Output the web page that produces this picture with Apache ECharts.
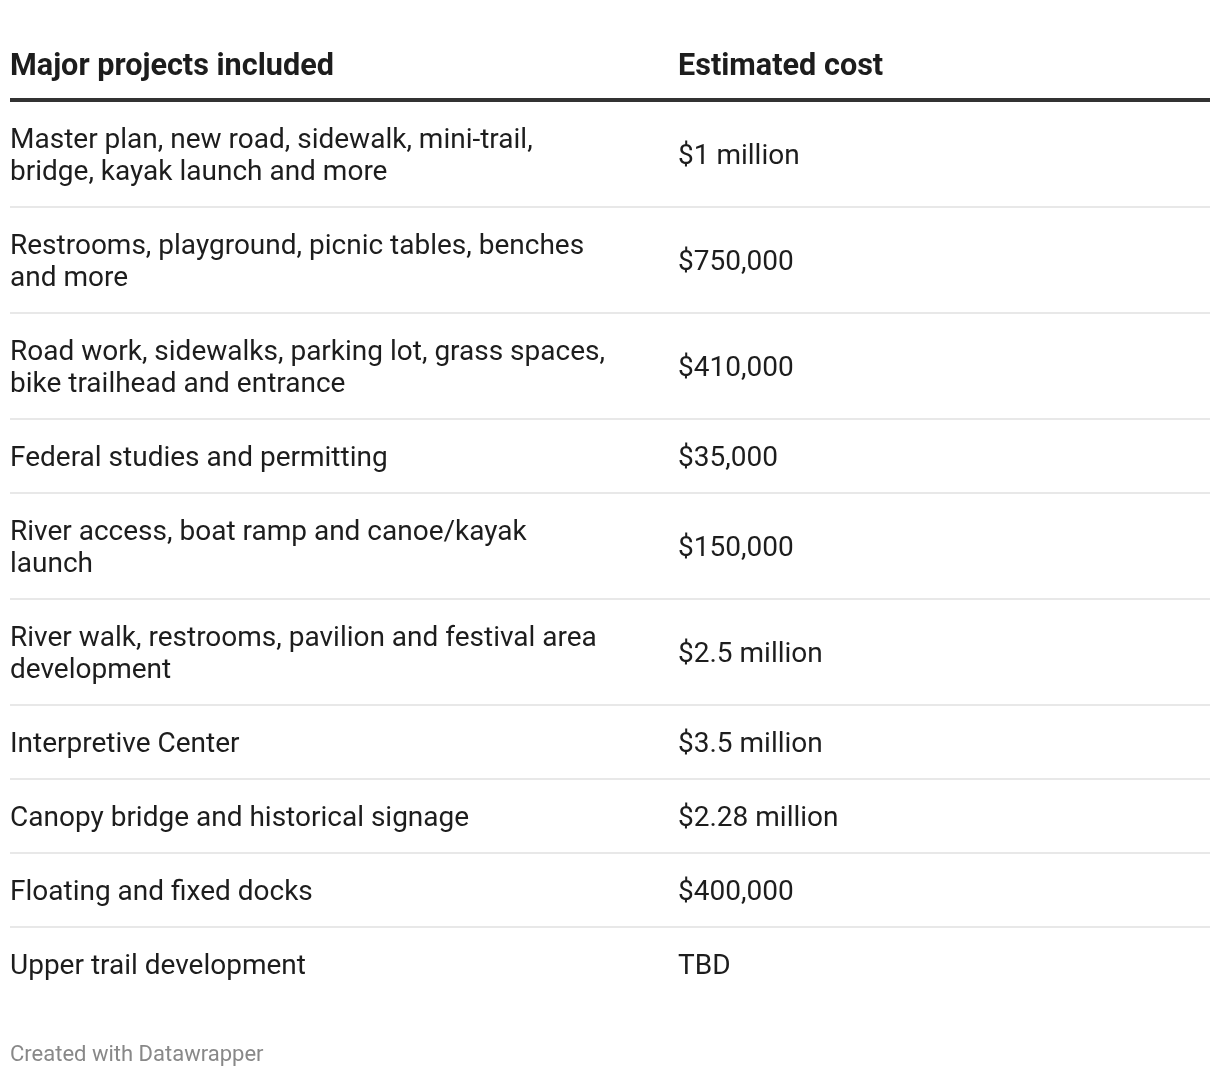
<!DOCTYPE html>
<html>
<head>
<meta charset="utf-8">
<script src="https://cdn.jsdelivr.net/npm/echarts@6/dist/echarts.min.js"></script>
<style>
html,body{margin:0;padding:0;background:#fff;}
#chart{width:1220px;height:1076px;}
</style>
</head>
<body>
<div id="chart"></div>
<script>
const headers = ["Major projects included", "Estimated cost"];
const projects = [
  "Master plan, new road, sidewalk, mini-trail,\nbridge, kayak launch and more",
  "Restrooms, playground, picnic tables, benches\nand more",
  "Road work, sidewalks, parking lot, grass spaces,\nbike trailhead and entrance",
  "Federal studies and permitting",
  "River access, boat ramp and canoe/kayak\nlaunch",
  "River walk, restrooms, pavilion and festival area\ndevelopment",
  "Interpretive Center",
  "Canopy bridge and historical signage",
  "Floating and fixed docks",
  "Upper trail development"
];
const costs = [
  "$1 million",
  "$750,000",
  "$410,000",
  "$35,000",
  "$150,000",
  "$2.5 million",
  "$3.5 million",
  "$2.28 million",
  "$400,000",
  "TBD"
];
const footer = "Created with Datawrapper";

const chart = echarts.init(document.getElementById('chart'), null, {renderer: 'canvas'});
const FONT = 'Roboto, "Noto Sans", sans-serif';
const left = 10, right = 1210, col2 = 678;
const elements = [];

elements.push({type:'text', style:{text: headers[0], x:left, y:67, font:'bold 30.6px ' + FONT, fill:'#1d1d1d', textVerticalAlign:'middle'}});
elements.push({type:'text', style:{text: headers[1], x:col2, y:67, font:'bold 30.6px ' + FONT, fill:'#1d1d1d', textVerticalAlign:'middle'}});
elements.push({type:'rect', shape:{x:left, y:98, width:right-left, height:4}, style:{fill:'#333333'}});

let y = 102;
projects.forEach((p, i) => {
  const lines = p.split('\n').length;
  const h = 42 + 32 * lines;
  const cy = y + (h - 2) / 2 + 3;
  elements.push({type:'text', style:{text:p, x:left, y:cy, font:'28px ' + FONT, lineHeight:32, fill:'#1d1d1d', textVerticalAlign:'middle'}});
  elements.push({type:'text', style:{text:costs[i], x:col2, y:cy, font:'28px ' + FONT, lineHeight:32, fill:'#1d1d1d', textVerticalAlign:'middle'}});
  if (i < projects.length - 1) {
    elements.push({type:'rect', shape:{x:left, y:y + h - 2, width:right-left, height:2}, style:{fill:'#e8e8e8'}});
  }
  y += h;
});

elements.push({type:'text', style:{text:footer, x:left, y:1055, font:'22px ' + FONT, fill:'#888888', textVerticalAlign:'middle'}});

chart.setOption({
  backgroundColor:'#ffffff',
  animation:false,
  graphic:{elements: elements}
});
</script>
</body>
</html>
